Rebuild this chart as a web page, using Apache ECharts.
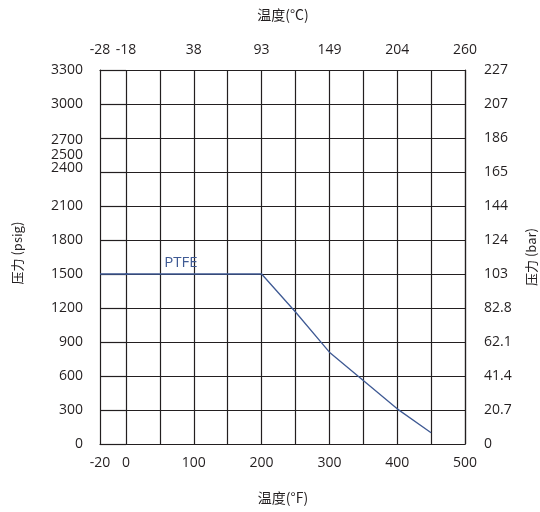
<!DOCTYPE html>
<html>
<head>
<meta charset="utf-8">
<script src="https://cdn.jsdelivr.net/npm/echarts@6/dist/echarts.min.js"></script>
<style>
html,body{margin:0;padding:0;background:#fff;}
#chart{width:540px;height:512px;}
</style>
</head>
<body>
<div id="chart"></div>
<script>
// Tick labels
const fTicks = [-20, 0, 100, 200, 300, 400, 500];
const cTickLabels = ['-28', '-18', '38', '93', '149', '204', '260'];
const psigTicks = [0, 300, 600, 900, 1200, 1500, 1800, 2100, 2400, 2700, 3000, 3300];
const barTickLabels = ['0', '20.7', '41.4', '62.1', '82.8', '103', '124', '144', '165', '186', '207', '227'];
const extraPsigLabels = [2500];

// Series: PTFE
const seriesName = 'PTFE';
const tempF = [-20, 200, 250, 300, 400, 450];
const pressurePsig = [1500, 1500, 1165, 810, 310, 100];

const ink = '#231f20';
const blue = '#3f5a94';
const numFont = '"Open Sans", "Noto Sans", sans-serif';
const cjkFont = '"Noto Sans CJK SC", "Open Sans", sans-serif';

const data = tempF.map((t, i) => [t, pressurePsig[i]]);

const chart = echarts.init(document.getElementById('chart'), null, {renderer: 'canvas'});

const lineStyle = {color: ink, width: 1.2};
const axisLine = {show: true, onZero: false, lineStyle};
const labelStyle = {color: ink, fontFamily: numFont, fontSize: 14};

const grids = [
  {left: 100, top: 70, width: 26, height: 374},
  {left: 126, top: 70, width: 339, height: 374}
];

const option = {
  animation: false,
  backgroundColor: '#fff',
  grid: grids,
  xAxis: [
    { // grid0 bottom
      type: 'value', gridIndex: 0, position: 'bottom', min: -20, max: 0, interval: 20,
      axisLine, axisTick: {show: false},
      splitLine: {show: false},
      axisLabel: Object.assign({}, labelStyle, {margin: 12, showMaxLabel: false,
        formatter: v => v === fTicks[0] ? String(v) : ''})
    },
    { // grid0 top
      type: 'value', gridIndex: 0, position: 'top', min: -20, max: 0, interval: 20,
      axisLine, axisTick: {show: false},
      splitLine: {show: false},
      axisLabel: Object.assign({}, labelStyle, {margin: 13, showMaxLabel: false,
        formatter: v => v === fTicks[0] ? cTickLabels[0] : ''})
    },
    { // grid1 bottom
      type: 'value', gridIndex: 1, position: 'bottom', min: 0, max: 500, interval: 50,
      axisLine, axisTick: {show: false},
      splitLine: {show: true, lineStyle},
      axisLabel: Object.assign({}, labelStyle, {margin: 12,
        formatter: v => fTicks.indexOf(v) >= 0 ? String(v) : ''})
    },
    { // grid1 top
      type: 'value', gridIndex: 1, position: 'top', min: 0, max: 500, interval: 50,
      axisLine, axisTick: {show: false},
      splitLine: {show: false},
      axisLabel: Object.assign({}, labelStyle, {margin: 13,
        formatter: v => { const i = fTicks.indexOf(v); return i >= 0 ? cTickLabels[i] : ''; }})
    }
  ],
  yAxis: [
    { // grid0 left psig
      type: 'value', gridIndex: 0, position: 'left', min: 0, max: 3300, interval: 300,
      axisLine, axisTick: {show: false},
      splitLine: {show: true, lineStyle},
      axisLabel: Object.assign({}, labelStyle, {margin: 17,
        formatter: v => v === 2700 ? '{lo|' + v + '}' : (v === 2400 ? '{hi|' + v + '}' : String(v)),
        rich: {
          lo: {color: ink, fontFamily: numFont, fontSize: 14, padding: [5, 0, 0, 0]},
          hi: {color: ink, fontFamily: numFont, fontSize: 14, padding: [0, 0, 8, 0]}
        }})
    },
    { // grid0 extra label 2500
      type: 'value', gridIndex: 0, position: 'left', min: 0, max: 3300,
      axisLine: {show: false, onZero: false}, axisTick: {show: false}, splitLine: {show: false},
      axisLabel: Object.assign({}, labelStyle, {margin: 17, customValues: extraPsigLabels,
        showMinLabel: false, showMaxLabel: false,
        formatter: v => '{up|' + v + '}',
        rich: {
          up: {color: ink, fontFamily: numFont, fontSize: 14, padding: [0, 0, 12, 0]}
        }})
    },
    { // grid1 right bar
      type: 'value', gridIndex: 1, position: 'right', min: 0, max: 3300, interval: 300,
      axisLine, axisTick: {show: false},
      splitLine: {show: true, lineStyle},
      axisLabel: Object.assign({}, labelStyle, {margin: 19,
        formatter: v => { const i = psigTicks.indexOf(v); return i >= 0 ? barTickLabels[i] : ''; }})
    }
  ],
  series: [
    {
      type: 'line', name: seriesName, xAxisIndex: 0, yAxisIndex: 0, data: data,
      clip: true, symbol: 'none', lineStyle: {color: blue, width: 1.3}, z: 5
    },
    {
      type: 'line', name: seriesName, xAxisIndex: 2, yAxisIndex: 2, data: data,
      clip: true, symbol: 'none', lineStyle: {color: blue, width: 1.3}, z: 5,
      markPoint: {
        symbol: 'rect', symbolSize: 0,
        data: [{coord: [81, pressurePsig[0]], value: seriesName}],
        label: {show: true, position: 'top', distance: 4, color: blue,
          fontFamily: numFont, fontSize: 15, formatter: seriesName}
      }
    }
  ],
  graphic: [
    {type: 'text', x: 283, y: 15, style: {text: '温度(°C)', fill: ink, font: '14px ' + cjkFont, align: 'center', verticalAlign: 'middle'}},
    {type: 'text', x: 283, y: 498, style: {text: '温度(°F)', fill: ink, font: '14px ' + cjkFont, align: 'center', verticalAlign: 'middle'}},
    {type: 'text', x: 17, y: 253, rotation: Math.PI / 2, style: {text: '压力 (psig)', fill: ink, font: '13px ' + cjkFont, align: 'center', verticalAlign: 'middle'}},
    {type: 'text', x: 531, y: 257, rotation: Math.PI / 2, style: {text: '压力 (bar)', fill: ink, font: '13px ' + cjkFont, align: 'center', verticalAlign: 'middle'}}
  ]
};

chart.setOption(option);
</script>
</body>
</html>
